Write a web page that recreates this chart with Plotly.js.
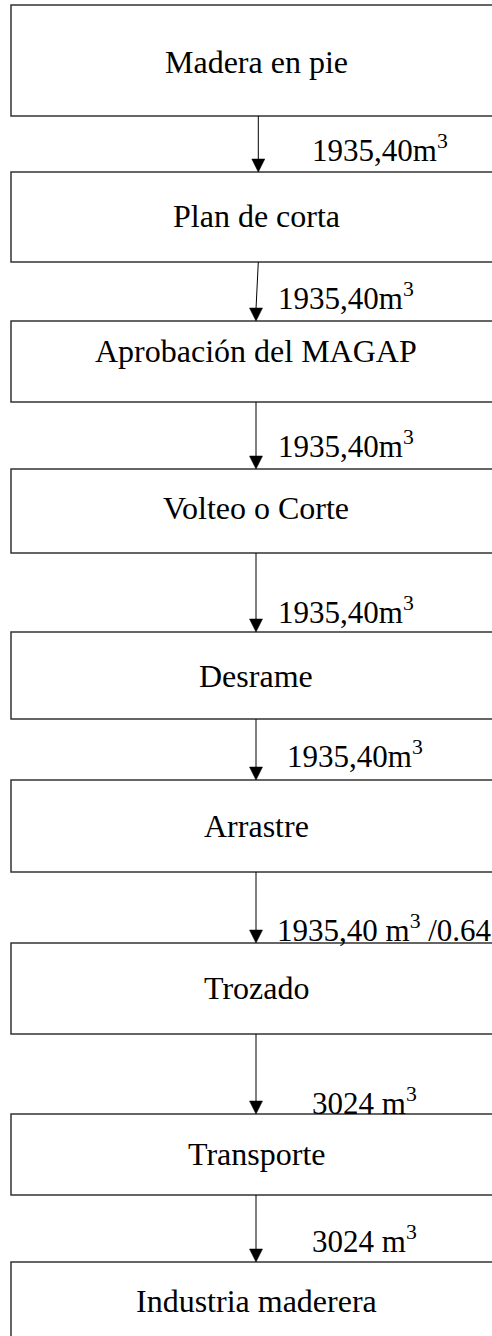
<!DOCTYPE html>
<html>
<head>
<meta charset="utf-8">
<script src="https://cdn.plot.ly/plotly-3.0.1.min.js"></script>
<style>html,body{margin:0;padding:0;background:#fff;}#chart{width:492px;height:1336px;}</style>
</head>
<body>
<div id="chart"></div>
<script>
// ---- content ----
const steps = ["Madera en pie", "Plan de corta", "Aprobación del MAGAP", "Volteo o Corte",
  "Desrame", "Arrastre", "Trozado", "Transporte", "Industria maderera"];
const flowLabels = ["1935,40m<sup>3</sup>", "1935,40m<sup>3</sup>", "1935,40m<sup>3</sup>",
  "1935,40m<sup>3</sup>", "1935,40m<sup>3</sup>", "1935,40 m<sup>3</sup> /0.64",
  "3024 m<sup>3</sup>", "3024 m<sup>3</sup>"];

// ---- layout (pixel positions on the page) ----
const boxTop = [5, 172, 321, 469, 632, 780, 943, 1114, 1262];
const boxBottom = [116, 262, 402, 553, 719, 872, 1034, 1195, 1350];
const stepBaseline = [73, 227, 362, 519, 687, 837, 999, 1165, 1312];
const boxLeft = 11, boxRight = 502, stepCenterX = 256;
const arrowStartX = [258.3, 258.3, 256, 256, 256, 256, 256, 256];
const arrowTipX = [258.3, 256, 256, 256, 256, 256, 256, 256];
const flowX = [312, 278, 278, 278, 287, 277, 312, 312];
const flowBaseline = [161, 309, 457, 623, 767, 941, 1114, 1252];
const HEAD_LEN = 13, HEAD_HALF = 6.5;

const FS_STEP = 32, FS_FLOW = 31;
const fam = "Liberation Serif, Times New Roman, serif";

const shapes = steps.map((s, i) => ({
  type: "rect", xref: "x", yref: "y",
  x0: boxLeft, x1: boxRight, y0: boxTop[i], y1: boxBottom[i],
  line: {color: "#333", width: 1.5}, fillcolor: "rgba(0,0,0,0)", layer: "above"
}));
flowLabels.forEach((t, i) => {
  const tipY = boxTop[i + 1], tx = arrowTipX[i];
  shapes.push({
    type: "line", xref: "x", yref: "y",
    x0: arrowStartX[i], y0: boxBottom[i], x1: tx, y1: tipY - HEAD_LEN + 1,
    line: {color: "#000", width: 1}, layer: "above"
  });
  shapes.push({
    type: "path", xref: "x", yref: "y",
    path: `M ${tx - HEAD_HALF},${tipY - HEAD_LEN} L ${tx + HEAD_HALF},${tipY - HEAD_LEN} L ${tx},${tipY} Z`,
    fillcolor: "#000", line: {color: "#000", width: 0.5}, layer: "above"
  });
});

const annotations = [];
steps.forEach((s, i) => {
  annotations.push({
    xref: "x", yref: "y", x: stepCenterX, y: stepBaseline[i] + 0.216 * FS_STEP,
    xanchor: "center", yanchor: "bottom", text: s, showarrow: false,
    font: {family: fam, size: FS_STEP, color: "#000"}, borderpad: 0, borderwidth: 0
  });
});
flowLabels.forEach((t, i) => {
  annotations.push({
    xref: "x", yref: "y", x: flowX[i], y: flowBaseline[i] + 0.216 * FS_FLOW,
    xanchor: "left", yanchor: "bottom", text: t, showarrow: false,
    font: {family: fam, size: FS_FLOW, color: "#000"}, borderpad: 0, borderwidth: 0
  });
});

Plotly.newPlot("chart", [{x: [], y: [], type: "scatter", mode: "markers", hoverinfo: "skip"}], {
  width: 492, height: 1336,
  margin: {l: 0, r: 0, t: 0, b: 0, pad: 0},
  paper_bgcolor: "#fff", plot_bgcolor: "#fff",
  showlegend: false,
  xaxis: {range: [0, 492], visible: false, fixedrange: true},
  yaxis: {range: [1336, 0], visible: false, fixedrange: true},
  shapes: shapes, annotations: annotations
}, {staticPlot: true});
</script>
</body>
</html>
